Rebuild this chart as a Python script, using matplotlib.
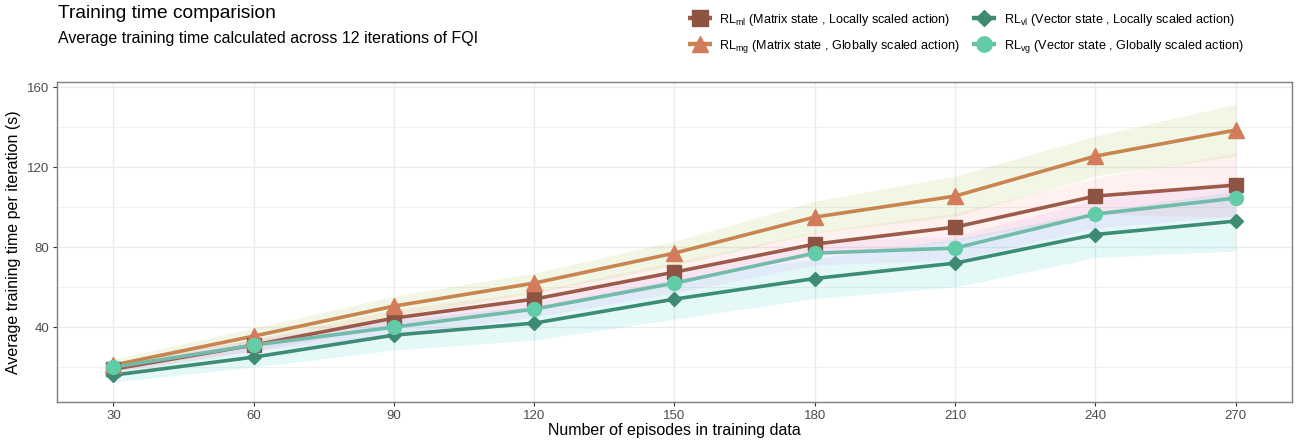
import numpy as np
import matplotlib
matplotlib.use("Agg")
from matplotlib import pyplot as plt

plt.rcParams['font.family'] = ['Liberation Sans', 'DejaVu Sans']
plt.rcParams['mathtext.fontset'] = 'custom'
plt.rcParams['mathtext.rm'] = 'Liberation Sans'
plt.rcParams['mathtext.it'] = 'Liberation Sans'

# Data
episodes = np.array([30, 60, 90, 120, 150, 180, 210, 240, 270])
ml_mean = np.array([19, 31, 44.5, 54, 67.5, 81.5, 90, 105.5, 111])
mg_mean = np.array([21, 35.5, 50.5, 62, 77, 95, 105.5, 125.5, 138.5])
vl_mean = np.array([16, 25, 36, 42, 54, 64.3, 72, 86.3, 93])
vg_mean = np.array([20, 31, 40, 49, 62, 77, 79.5, 96.5, 104.5])
ml_sd = np.array([2, 3, 4, 4, 5, 6, 7, 9, 16])
mg_sd = np.array([3, 4, 5, 5, 6, 8, 10, 10, 13])
vl_sd = np.array([3.5, 5, 7.5, 8.5, 10, 10, 12, 11.5, 15])
vg_sd = np.array([2, 3, 4, 4, 5, 6, 6, 7, 9])

labels = [
    r"RL$_{\mathrm{ml}}$ (Matrix state , Locally scaled action)",
    r"RL$_{\mathrm{mg}}$ (Matrix state , Globally scaled action)",
    r"RL$_{\mathrm{vl}}$ (Vector state , Locally scaled action)",
    r"RL$_{\mathrm{vg}}$ (Vector state , Globally scaled action)",
]

series = [
    (ml_mean, ml_sd, "#9B5A4A", "#8E5443", "s", 10, "#F8766D"),
    (mg_mean, mg_sd, "#C8854F", "#D27C5C", "^", 11, "#7CAE00"),
    (vl_mean, vl_sd, "#3D8C76", "#3E8A72", "D", 7.5, "#00BFC4"),
    (vg_mean, vg_sd, "#72BBAA", "#62CBA8", "o", 10, "#C77CFF"),
]

fig = plt.figure(figsize=(13.03, 4.47), dpi=100)
ax = fig.add_axes([0.044, 0.1013, 0.9473, 0.7159])

# ribbons first
for mean, sd, lc, mc, mk, ms, fc in series:
    ax.fill_between(episodes, mean - sd, mean + sd, color=fc, alpha=0.1,
                    linewidth=0, zorder=1)

handles = []
for (mean, sd, lc, mc, mk, ms, fc), lab in zip(series, labels):
    ax.plot(episodes, mean, color=lc, linewidth=2.6, zorder=3,
            solid_capstyle='butt')
    ax.plot(episodes, mean, linestyle='none', marker=mk, markersize=ms,
            color=mc, zorder=4)
    h, = ax.plot([], [], color=lc, linewidth=3.2, marker=mk, markersize=ms + 1,
                 markerfacecolor=mc, markeredgecolor=mc, label=lab,
                 solid_capstyle='butt')
    handles.append(h)

ax.set_xlim(18, 282)
ax.set_ylim(2.7, 162.7)
ax.set_xticks(episodes)
ax.set_yticks([40, 80, 120, 160])
ax.set_yticks([20, 60, 100, 140], minor=True)
ax.grid(True, which='major', color='#EBEBEB', linewidth=1.0)
ax.grid(True, which='minor', axis='y', color='#EBEBEB', linewidth=0.5)
ax.set_axisbelow(True)
ax.tick_params(which='major', length=3, color='#333333', labelsize=9.5,
               labelcolor='#4D4D4D', pad=3)
ax.tick_params(which='minor', length=0)
for sp in ax.spines.values():
    sp.set_color('#7F7F7F')
    sp.set_linewidth(1.0)

ax.set_xlabel("Number of episodes in training data", fontsize=11.5, labelpad=1)
ax.set_ylabel("Average training time per iteration (s)", fontsize=11.5,
              labelpad=4)

fig.text(0.0445, 0.970, "Training time comparision", fontsize=13.8,
         va='center', ha='left')
fig.text(0.0445, 0.914, "Average training time calculated across 12 iterations of FQI",
         fontsize=11.5, va='center', ha='left')

fig.legend(handles=handles, ncol=2, loc='upper left',
           bbox_to_anchor=(0.524, 0.985), frameon=False, fontsize=9.1,
           handlelength=1.9, handletextpad=0.6, columnspacing=0.95,
           labelspacing=0.8, borderaxespad=0.0)

fig.savefig("out.png", dpi=100)
